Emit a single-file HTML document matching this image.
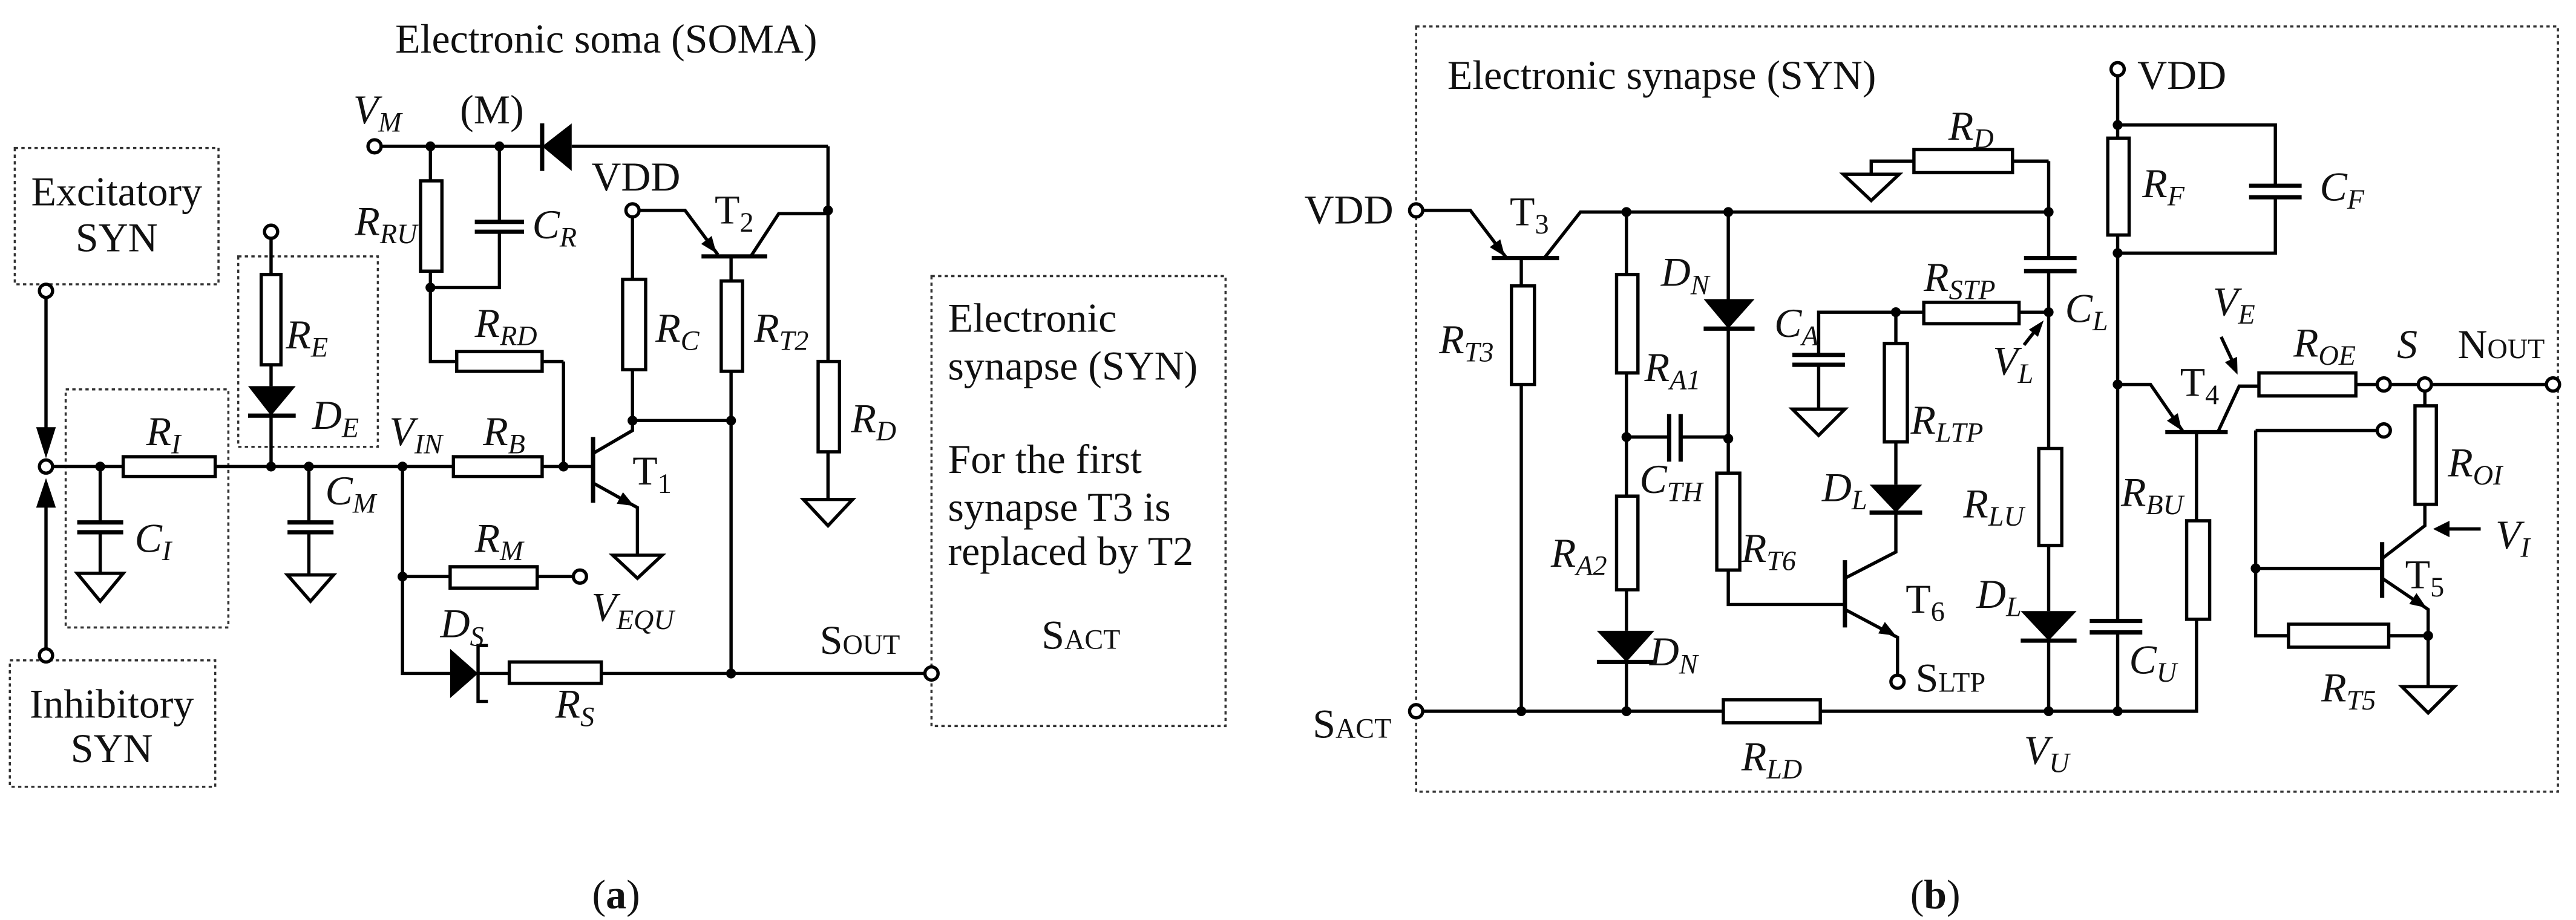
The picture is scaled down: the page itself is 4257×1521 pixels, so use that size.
<!DOCTYPE html>
<html><head><meta charset="utf-8"><style>
html,body{margin:0;padding:0;background:#fff}
svg{display:block}
.w{stroke:#000;stroke-width:2;fill:none}
.r{stroke:#000;stroke-width:2;fill:#fff}
.p{stroke:#000;stroke-width:2.6;fill:none}
.d{stroke:#333;stroke-width:1.3;stroke-dasharray:2 2;fill:none}
.f{fill:#000;stroke:none}
.g{stroke:#000;stroke-width:2;fill:#fff}
text{font-family:"Liberation Serif",serif;font-size:25px;fill:#111}
.i{font-style:italic}
</style></head><body>
<svg width="4257" height="1521" viewBox="0 0 1568 560" xmlns="http://www.w3.org/2000/svg">
<rect width="1568" height="560" fill="#fff"/>
<!-- ===== Panel (a) ===== -->
<text x="369" y="32" text-anchor="middle">Electronic soma (SOMA)</text>
<rect class="d" x="9" y="90" width="124" height="83"/>
<rect class="d" x="6" y="402" width="125" height="77"/>
<rect class="d" x="40" y="237" width="99" height="145"/>
<rect class="d" x="145" y="156" width="85" height="116"/>
<rect class="d" x="567" y="168" width="179" height="274"/>
<text x="71" y="125" text-anchor="middle">Excitatory</text>
<text x="71" y="153" text-anchor="middle">SYN</text>
<text x="68" y="437" text-anchor="middle">Inhibitory</text>
<text x="68" y="464" text-anchor="middle">SYN</text>
<path class="w" d="M28,181 V262 M28,395 V307"/>
<polygon class="f" points="22,260 34,260 28,279"/>
<polygon class="f" points="22,309 34,309 28,291"/>
<path class="w" d="M32,284 H75 M131,284 H276 M330,284 H361"/>
<rect class="r" x="75" y="278" width="56" height="12"/>
<rect class="r" x="276" y="278" width="54" height="12"/>
<path class="w" d="M61,284 V318 M61,324 V349"/>
<path class="p" d="M47,318 H75 M47,324 H75"/>
<polygon class="g" points="47,349 75,349 61,366"/>
<path class="w" d="M165,145 V167 M165,222 V235 M165,253 V284"/>
<rect class="r" x="159" y="167" width="12" height="55"/>
<polygon class="f" points="151,235 180,235 165,253"/>
<path class="p" d="M151,253 H180"/>
<path class="w" d="M188,284 V318 M188,324 V350"/>
<path class="p" d="M175,318 H203 M175,324 H203"/>
<polygon class="g" points="175,350 203,350 189,366"/>
<path class="w" d="M245,284 V410 H274 M291,410 H310 M366,410 H563"/>
<polygon class="f" points="274,395 274,425 291,410"/>
<path class="w" d="M297,393 H291 V427 H297"/>
<rect class="r" x="310" y="403" width="56" height="13"/>
<path class="w" d="M245,351 H274 M327,351 H349"/>
<rect class="r" x="274" y="345" width="53" height="13"/>
<path class="w" d="M343,220 V284"/>
<path class="p" d="M361,266 V306"/>
<path class="w" d="M361,276 L385,262 V225 M385,170 V132 M361,294 L388,309 V338 M385,256 H445"/>
<polygon class="f" points="386,308 375.4,306.6 379.2,299.6"/>
<rect class="r" x="379" y="170" width="14" height="55"/>
<polygon class="g" points="373,338 403,338 388,352"/>
<path class="w" d="M389,128 H417 L437,155"/>
<polygon class="f" points="436,154 426.8,148.4 433.2,143.6"/>
<path class="p" d="M427,156 H467"/>
<path class="w" d="M457,156 L474,130 H504 M445,156 V171 M445,226 V410"/>
<rect class="r" x="439" y="171" width="13" height="55"/>
<path class="w" d="M504,89 V220 M504,275 V304"/>
<rect class="r" x="498" y="220" width="13" height="55"/>
<polygon class="g" points="489,304 519,304 504,320"/>
<path class="w" d="M232,89 H330 M348,89 H504"/>
<polygon class="f" points="348,75 348,104 330,89"/>
<path class="p" d="M330,75 V104"/>
<path class="w" d="M262,89 V110 M262,165 V220 H278 M330,220 H343"/>
<rect class="r" x="256" y="110" width="13" height="55"/>
<rect class="r" x="278" y="214" width="52" height="12"/>
<path class="w" d="M304,89 V135 M304,141 V175 H262"/>
<path class="p" d="M289,135 H319 M289,141 H319"/>
<g class="f">
<circle cx="61" cy="284" r="3"/><circle cx="165" cy="284" r="3"/><circle cx="188" cy="284" r="3"/>
<circle cx="245" cy="284" r="3"/><circle cx="343" cy="284" r="3"/><circle cx="385" cy="256" r="3"/>
<circle cx="445" cy="256" r="3"/><circle cx="445" cy="410" r="3"/><circle cx="245" cy="351" r="3"/>
<circle cx="504" cy="128" r="3"/><circle cx="262" cy="89" r="3"/><circle cx="304" cy="89" r="3"/>
<circle cx="262" cy="175" r="3"/>
</g>
<g class="g">
<circle cx="28" cy="177" r="4"/><circle cx="28" cy="284" r="4"/><circle cx="28" cy="399" r="4"/>
<circle cx="165" cy="141" r="4"/><circle cx="353" cy="351" r="4"/><circle cx="385" cy="128" r="4"/>
<circle cx="228" cy="89" r="4"/><circle cx="567" cy="410" r="4"/>
</g>
<text class="i" x="89" y="271">R<tspan font-size="17" dy="5">I</tspan></text>
<text class="i" x="82" y="336">C<tspan font-size="17" dy="5">I</tspan></text>
<text class="i" x="174" y="212">R<tspan font-size="17" dy="5">E</tspan></text>
<text class="i" x="190" y="261">D<tspan font-size="17" dy="5">E</tspan></text>
<text class="i" x="198" y="307">C<tspan font-size="17" dy="5">M</tspan></text>
<text class="i" x="237" y="271">V<tspan font-size="17" dy="5">IN</tspan></text>
<text class="i" x="294" y="271">R<tspan font-size="17" dy="5">B</tspan></text>
<text x="385" y="295">T<tspan font-size="17" dy="5">1</tspan></text>
<text class="i" x="215" y="75">V<tspan font-size="17" dy="5">M</tspan></text>
<text x="280" y="75">(M)</text>
<text class="i" x="216" y="143">R<tspan font-size="17" dy="5">RU</tspan></text>
<text class="i" x="324" y="145">C<tspan font-size="17" dy="5">R</tspan></text>
<text x="360" y="116">VDD</text>
<text x="435" y="136">T<tspan font-size="17" dy="5">2</tspan></text>
<text class="i" x="289" y="205">R<tspan font-size="17" dy="5">RD</tspan></text>
<text class="i" x="399" y="208">R<tspan font-size="17" dy="5">C</tspan></text>
<text class="i" x="459" y="208">R<tspan font-size="17" dy="5">T2</tspan></text>
<text class="i" x="518" y="263">R<tspan font-size="17" dy="5">D</tspan></text>
<text class="i" x="289" y="336">R<tspan font-size="17" dy="5">M</tspan></text>
<text class="i" x="360" y="378">V<tspan font-size="17" dy="5">EQU</tspan></text>
<text class="i" x="268" y="388">D<tspan font-size="17" dy="5">S</tspan></text>
<text class="i" x="338" y="437">R<tspan font-size="17" dy="5">S</tspan></text>
<text x="499" y="398">S<tspan font-size="17">OUT</tspan></text>
<text x="577" y="202">Electronic</text>
<text x="577" y="231">synapse (SYN)</text>
<text x="577" y="288">For the first</text>
<text x="577" y="317">synapse T3 is</text>
<text x="577" y="344">replaced by T2</text>
<text x="634" y="395">S<tspan font-size="17">ACT</tspan></text>
<text x="375" y="553" text-anchor="middle">(<tspan font-weight="bold">a</tspan>)</text>

<!-- ===== Panel (b) ===== -->
<rect class="d" x="862" y="16" width="695" height="466"/>
<text x="881" y="54">Electronic synapse (SYN)</text>
<path class="w" d="M866,128 H895 L917,157"/>
<polygon class="f" points="916,156 906.8,150.4 913.2,145.6"/>
<path class="p" d="M908,157 H949"/>
<path class="w" d="M940,157 L962,129 H1247 M1247,98 V157 M1247,165 V273 M1247,332 V372 M1247,390 V433"/>
<path class="p" d="M1232,157 H1264 M1232,165 H1264"/>
<rect class="r" x="1241" y="273" width="14" height="59"/>
<polygon class="f" points="1230,372 1264,372 1247,390"/>
<path class="p" d="M1230,390 H1264"/>
<path class="w" d="M1139,106 V98 H1165 M1225,98 H1247"/>
<rect class="r" x="1165" y="91" width="60" height="14"/>
<polygon class="g" points="1122,106 1156,106 1139,122"/>
<path class="w" d="M926,157 V174 M926,234 V433"/>
<rect class="r" x="920" y="174" width="14" height="60"/>
<path class="w" d="M866,433 H1049 M1108,433 H1337 V377 M1337,317 V263"/>
<rect class="r" x="1049" y="426" width="59" height="14"/>
<rect class="r" x="1331" y="317" width="14" height="60"/>
<path class="w" d="M990,129 V167 M990,227 V302 M990,359 V384 M990,403 V433"/>
<rect class="r" x="984" y="167" width="13" height="60"/>
<rect class="r" x="984" y="302" width="13" height="57"/>
<polygon class="f" points="972,384 1007,384 990,403"/>
<path class="p" d="M972,403 H1007"/>
<path class="w" d="M990,266 H1016 M1023,266 H1052"/>
<path class="p" d="M1016,252 V281 M1023,252 V281"/>
<path class="w" d="M1052,129 V182 M1052,200 V288 M1052,347 V368 H1123"/>
<polygon class="f" points="1037,182 1068,182 1052,200"/>
<path class="p" d="M1037,200 H1068"/>
<rect class="r" x="1045" y="288" width="14" height="59"/>
<path class="p" d="M1123,341 V382"/>
<path class="w" d="M1123,352 L1154,336 V312 M1154,295 V269 M1154,209 V190 M1123,371 L1155,388 V411"/>
<polygon class="f" points="1154,387 1143.3,385.6 1147.3,378.6"/>
<polygon class="f" points="1138,295 1170,295 1154,312"/>
<path class="p" d="M1138,312 H1170"/>
<rect class="r" x="1147" y="209" width="14" height="60"/>
<path class="w" d="M1107,216 V190 H1171 M1107,222 V249 M1229,190 H1247"/>
<path class="p" d="M1091,216 H1123 M1091,222 H1123"/>
<polygon class="g" points="1091,249 1123,249 1107,265"/>
<rect class="r" x="1171" y="184" width="58" height="13"/>
<path class="w" d="M1289,46 V84 M1289,143 V378 M1289,385 V433 M1289,76 H1385 V113 M1385,120 V154 H1289"/>
<rect class="r" x="1283" y="84" width="13" height="59"/>
<path class="p" d="M1272,378 H1304 M1272,385 H1304 M1369,113 H1401 M1369,120 H1401"/>
<path class="w" d="M1289,234 H1309 L1329,263"/>
<polygon class="f" points="1328,262 1319,256.1 1325.6,251.5"/>
<path class="p" d="M1318,263 H1356"/>
<path class="w" d="M1350,263 L1363,235 H1375 M1434,234 H1447 M1455,234 H1472 M1480,234 H1550"/>
<rect class="r" x="1375" y="227" width="59" height="14"/>
<path class="w" d="M1352,205 L1359,220"/>
<polygon class="f" points="1362,228 1354.3,220.4 1361.7,217.2"/>
<path class="w" d="M1373,262 H1447 M1373,262 V387 H1393 M1454,387 H1478 M1373,346 H1450 M1476,238 V247 M1476,307 V320 L1450,340 M1450,352 L1478,371 V418"/>
<path class="p" d="M1450,330 V364"/>
<rect class="r" x="1470" y="247" width="13" height="60"/>
<rect class="r" x="1393" y="380" width="61" height="14"/>
<polygon class="f" points="1477,370 1466.5,367.7 1470.9,361.1"/>
<polygon class="g" points="1462,418 1494,418 1478,434"/>
<path class="w" d="M1510,322 H1489"/>
<polygon class="f" points="1481,322 1491,317 1491,327"/>
<path class="w" d="M1232,210 L1239,201"/>
<polygon class="f" points="1244,195 1240.5,205 1235,200.6"/>
<g class="f">
<circle cx="990" cy="129" r="3"/><circle cx="1052" cy="129" r="3"/><circle cx="1247" cy="129" r="3"/>
<circle cx="1247" cy="190" r="3"/><circle cx="1154" cy="190" r="3"/><circle cx="990" cy="266" r="3"/>
<circle cx="1052" cy="267" r="3"/><circle cx="926" cy="433" r="3"/><circle cx="990" cy="433" r="3"/>
<circle cx="1247" cy="433" r="3"/><circle cx="1289" cy="433" r="3"/><circle cx="1289" cy="76" r="3"/>
<circle cx="1289" cy="154" r="3"/><circle cx="1289" cy="234" r="3"/><circle cx="1373" cy="346" r="3"/>
<circle cx="1478" cy="387" r="3"/>
</g>
<g class="g">
<circle cx="862" cy="128" r="4"/><circle cx="862" cy="433" r="4"/><circle cx="1155" cy="415" r="4"/>
<circle cx="1289" cy="42" r="4"/><circle cx="1451" cy="234" r="4"/><circle cx="1476" cy="234" r="4"/>
<circle cx="1554" cy="234" r="4"/><circle cx="1451" cy="262" r="4"/>
</g>
<text x="794" y="136">VDD</text>
<text x="919" y="137">T<tspan font-size="17" dy="5">3</tspan></text>
<text class="i" x="876" y="215">R<tspan font-size="17" dy="5">T3</tspan></text>
<text class="i" x="1011" y="174">D<tspan font-size="17" dy="5">N</tspan></text>
<text class="i" x="1001" y="232">R<tspan font-size="17" dy="5">A1</tspan></text>
<text class="i" x="998" y="300">C<tspan font-size="17" dy="5">TH</tspan></text>
<text class="i" x="944" y="345">R<tspan font-size="17" dy="5">A2</tspan></text>
<text class="i" x="1004" y="405">D<tspan font-size="17" dy="5">N</tspan></text>
<text class="i" x="1060" y="342">R<tspan font-size="17" dy="5">T6</tspan></text>
<text class="i" x="1080" y="205">C<tspan font-size="17" dy="5">A</tspan></text>
<text class="i" x="1163" y="264">R<tspan font-size="17" dy="5">LTP</tspan></text>
<text class="i" x="1109" y="305">D<tspan font-size="17" dy="5">L</tspan></text>
<text x="1160" y="373">T<tspan font-size="17" dy="5">6</tspan></text>
<text x="1166" y="421">S<tspan font-size="17">LTP</tspan></text>
<text class="i" x="1171" y="177">R<tspan font-size="17" dy="5">STP</tspan></text>
<text class="i" x="1186" y="85">R<tspan font-size="17" dy="5">D</tspan></text>
<text class="i" x="1257" y="196">C<tspan font-size="17" dy="5">L</tspan></text>
<text class="i" x="1213" y="228">V<tspan font-size="17" dy="5">L</tspan></text>
<text class="i" x="1195" y="315">R<tspan font-size="17" dy="5">LU</tspan></text>
<text class="i" x="1203" y="370">D<tspan font-size="17" dy="5">L</tspan></text>
<text class="i" x="1232" y="465">V<tspan font-size="17" dy="5">U</tspan></text>
<text class="i" x="1060" y="469">R<tspan font-size="17" dy="5">LD</tspan></text>
<text x="799" y="449">S<tspan font-size="17">ACT</tspan></text>
<text x="1301" y="54">VDD</text>
<text class="i" x="1304" y="120">R<tspan font-size="17" dy="5">F</tspan></text>
<text class="i" x="1412" y="122">C<tspan font-size="17" dy="5">F</tspan></text>
<text class="i" x="1296" y="410">C<tspan font-size="17" dy="5">U</tspan></text>
<text class="i" x="1291" y="308">R<tspan font-size="17" dy="5">BU</tspan></text>
<text x="1327" y="241">T<tspan font-size="17" dy="5">4</tspan></text>
<text class="i" x="1347" y="192">V<tspan font-size="17" dy="5">E</tspan></text>
<text class="i" x="1396" y="217">R<tspan font-size="17" dy="5">OE</tspan></text>
<text class="i" x="1459" y="218">S</text>
<text x="1496" y="218">N<tspan font-size="17">OUT</tspan></text>
<text class="i" x="1490" y="290">R<tspan font-size="17" dy="5">OI</tspan></text>
<text class="i" x="1519" y="334">V<tspan font-size="17" dy="5">I</tspan></text>
<text x="1464" y="358">T<tspan font-size="17" dy="5">5</tspan></text>
<text class="i" x="1413" y="427">R<tspan font-size="17" dy="5">T5</tspan></text>
<text x="1178" y="553" text-anchor="middle">(<tspan font-weight="bold">b</tspan>)</text>
</svg>
</body></html>
